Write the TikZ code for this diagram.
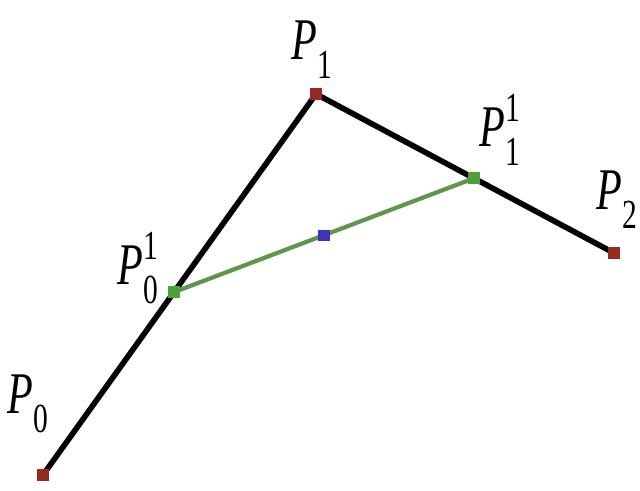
\documentclass[tikz,border=0pt]{standalone}
\usepackage{fontspec}
\setmainfont{Liberation Serif}
\usetikzlibrary{calc}
\definecolor{ctrlred}{RGB}{150,42,32}
\definecolor{midgreen}{RGB}{78,160,58}
\definecolor{linegreen}{RGB}{95,150,75}
\definecolor{ptblue}{RGB}{62,52,185}
% point label P_sub^sup, stretched upwards like the scan
\newcommand{\idx}{\fontsize{21}{24}\selectfont}
\newcommand{\plbl}[2]{\scalebox{1}[1.4]{\textit{P}\rlap{\raisebox{0.42em}{\idx #2}}%
  \raisebox{-0.32em}{\idx #1}}}

\begin{document}
\begin{tikzpicture}[x=0.025cm,y=-0.025cm,
    pt/.style={rectangle,inner sep=0pt,minimum size=0.3cm},
    lbl/.style={font=\fontsize{30}{36}\selectfont,inner sep=0pt}]
  \useasboundingbox (0,0) rectangle (640,491);
  % Control polygon
  \coordinate (P0) at (43,475);
  \coordinate (P1) at (316,94);
  \coordinate (P2) at (614,253);
  \coordinate (Q0) at ($(P0)!0.48!(P1)$);
  \coordinate (Q1) at ($(P1)!0.53!(P2)$);
  \coordinate (R0) at ($(Q0)!0.5!(Q1)$);
  \draw[line width=4pt,line cap=round] (P0) -- (P1) -- (P2);
  % First subdivision
  \draw[linegreen,line width=3pt] (Q0) -- (Q1);
  % Points
  \node[pt,fill=ctrlred] (p0) at (P0) {};
  \node[pt,fill=ctrlred] (p1) at (P1) {};
  \node[pt,fill=ctrlred] (p2) at (P2) {};
  \node[pt,fill=midgreen] (q0) at (Q0) {};
  \node[pt,fill=midgreen] (q1) at (Q1) {};
  \node[pt,fill=ptblue,minimum size=0.28cm] (r0) at (R0) {};
  % Labels
  \node[lbl] (l0) at (28,404) {\plbl{0}{}};
  \node[lbl] (l1) at (312,50) {\plbl{1}{}};
  \node[lbl] (l2) at (617,200) {\plbl{2}{}};
  \node[lbl] (m0) at (138,268) {\plbl{0}{1}};
  \node[lbl] (m1) at (500,130) {\plbl{1}{1}};
\end{tikzpicture}
\end{document}
